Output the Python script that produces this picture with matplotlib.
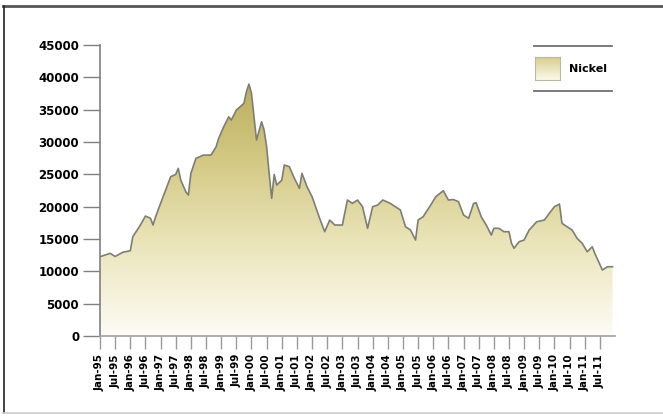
import numpy as np
import matplotlib
matplotlib.use("Agg")
import matplotlib.pyplot as plt
from matplotlib.colors import LinearSegmentedColormap
from matplotlib.lines import Line2D

# months since Jan-95
months = [0, 4, 6, 9, 12, 13, 16, 18, 20, 21, 22, 24, 26, 28, 30, 31, 32, 34, 35, 36,
          38, 41, 44, 46, 47, 49, 51, 52, 54, 57, 58, 59, 60, 61, 62, 64, 65, 66, 67, 68,
          69, 70, 72, 73, 75, 77, 79, 80, 82, 84, 87, 89, 91, 93, 96, 98, 100, 102, 104, 106,
          108, 110, 112, 115, 119, 121, 123, 125, 126, 128, 131, 133, 136, 138, 140, 142, 144, 146, 148, 149,
          151, 153, 155, 156, 158, 160, 162, 163, 164, 166, 168, 170, 173, 176, 178, 180, 182, 183, 185, 187,
          189, 191, 193, 195, 196, 199, 201, 203]
prices = [12260, 12780, 12300, 12940, 13190, 15350, 17160, 18550, 18200, 17160, 18400, 20510, 22570, 24630, 25000, 25920, 24100, 22300, 21800, 25150,
          27470, 27980, 27980, 29270, 30560, 32360, 33900, 33390, 34940, 35970, 37770, 38960, 37520, 33900, 30300, 33130, 31850, 29270, 25150, 21290,
          24990, 23340, 24100, 26440, 26180, 24380, 22830, 25150, 23080, 21540, 18200, 16130, 17930, 17160, 17160, 21030, 20510, 21030, 19990, 16650,
          19990, 20250, 21030, 20510, 19480, 16900, 16390, 14840, 17930, 18450, 20250, 21540, 22470, 21030, 21100, 20770, 18710, 18200, 20510, 20600,
          18450, 17160, 15610, 16650, 16650, 16130, 16130, 14330, 13560, 14580, 14840, 16390, 17670, 17930, 18970, 19990, 20410, 17420, 16900, 16390,
          15100, 14330, 13030, 13800, 12780, 10200, 10710, 10710]

tick_labels = []
for yr in range(1995, 2012):
    for mon in ["Jan", "Jul"]:
        tick_labels.append(f"{mon}-{yr % 100:02d}")
tick_pos = [6 * i for i in range(len(tick_labels))]

x = np.array(months, dtype=float)
y = np.array(prices, dtype=float)

fig = plt.figure(figsize=(6.63, 4.2), dpi=100)
ax = fig.add_axes([100 / 663, 1 - 336 / 420, 515 / 663, 291 / 420])

ax.set_xlim(0, 204)
ax.set_ylim(0, 45000)

# gradient fill clipped by the area under the curve
cmap = LinearSegmentedColormap.from_list("nk", ["#fdfcf6", "#ebe5bb", "#d2c781", "#b5a756"])
grad = np.linspace(0, 1, 256).reshape(-1, 1)
img = ax.imshow(grad, cmap=cmap, aspect="auto", origin="lower",
                extent=[0, 204, 0, 42000], zorder=1)
poly = ax.fill_between(x, y, 0, color="none", lw=0)
path = poly.get_paths()[0]
img.set_clip_path(path, transform=ax.transData)
ax.plot(x, y, color="#7e7e76", lw=1.2, zorder=3)

ax.set_yticks(range(0, 45001, 5000))
ax.set_yticklabels([str(v) for v in range(0, 45001, 5000)], fontsize=8.5, fontweight="bold")
ax.set_xticks(tick_pos)
ax.set_xticklabels(tick_labels, rotation=90, fontsize=7.5, fontweight="bold")
ax.tick_params(axis="y", length=12, width=1, color="#808080", pad=3)
ax.tick_params(axis="x", length=9, width=1, color="#9a9a9a", pad=4)

for s in ["top", "right"]:
    ax.spines[s].set_visible(False)
ax.spines["left"].set_color("#808080")
ax.spines["bottom"].set_color("#a0a0a0")
ax.spines["left"].set_linewidth(1.2)
ax.spines["bottom"].set_linewidth(1.2)

# legend: gradient swatch between two rules
lax = fig.add_axes([535 / 663, 1 - 80 / 420, 25 / 663, 23 / 420])
lax.imshow(np.linspace(0, 1, 50).reshape(-1, 1),
           cmap=LinearSegmentedColormap.from_list("lg", ["#fbf9ea", "#d8cf8c"]),
           aspect="auto", origin="lower")
lax.set_xticks([])
lax.set_yticks([])
for s in lax.spines.values():
    s.set_color("#b8b8a8")
fig.text(569 / 663, 1 - 69 / 420, "Nickel", fontsize=8, fontweight="bold", va="center")
fig.add_artist(Line2D([534 / 663, 612 / 663], [1 - 46 / 420] * 2, color="#707070", lw=1.3))
fig.add_artist(Line2D([534 / 663, 612 / 663], [1 - 91 / 420] * 2, color="#707070", lw=1.3))

# outer frame
fig.add_artist(Line2D([3 / 663, 663 / 663], [1 - 6 / 420] * 2, color="#555555", lw=2))
fig.add_artist(Line2D([3.5 / 663] * 2, [1 - 6 / 420, 1 - 413 / 420], color="#222222", lw=1.2))
fig.add_artist(Line2D([3 / 663, 663 / 663], [1 - 413 / 420] * 2, color="#cccccc", lw=1.2))

fig.savefig("out.png", dpi=100)
